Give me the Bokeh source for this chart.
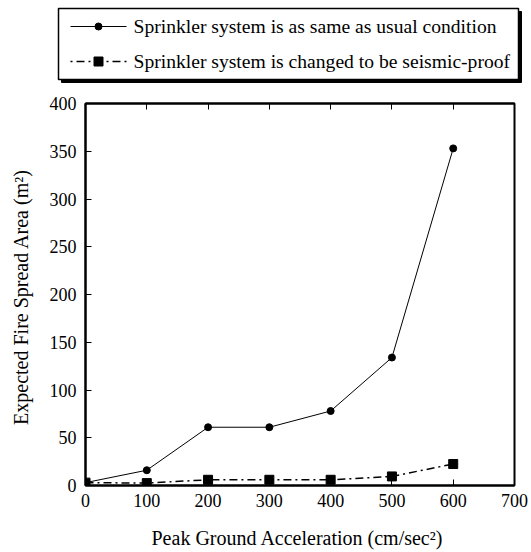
from bokeh.plotting import figure
from bokeh.models import LinearAxis, FixedTicker, Range1d
from bokeh.core.properties import value
from bokeh.embed import file_html
from bokeh.resources import INLINE

pga = [0, 100, 200, 300, 400, 500, 600]
usual = [3, 16, 61, 61, 78, 134, 353]
seismic = [3, 2.5, 6, 6, 6, 9.5, 22.5]
x_ticks = [0, 100, 200, 300, 400, 500, 600, 700]
y_ticks = [0, 50, 100, 150, 200, 250, 300, 350, 400]
label_usual = "Sprinkler system is as same as usual condition"
label_seismic = "Sprinkler system is changed to be seismic-proof"

FONT = "Liberation Serif"
DASH = "8 4 2 4"

# ---------- main chart ----------
p = figure(width=531, height=464, output_backend="svg", toolbar_location=None,
           x_range=Range1d(0, 700), y_range=Range1d(0, 400),
           min_border_left=85, min_border_right=17, min_border_top=15, min_border_bottom=67,
           x_axis_location=None, y_axis_location=None)
p.grid.visible = False
p.outline_line_color = "black"
p.outline_line_width = 2

xb = LinearAxis(ticker=FixedTicker(ticks=x_ticks), axis_label="Peak Ground Acceleration  (cm/sec²)")
yl = LinearAxis(ticker=FixedTicker(ticks=y_ticks), axis_label="Expected Fire Spread Area  (m²)")
xt = LinearAxis(ticker=FixedTicker(ticks=x_ticks))
for ax in (xb, yl, xt):
    ax.axis_line_width = 2
    ax.axis_line_color = "black"
    ax.major_tick_in = 6
    ax.major_tick_out = 0
    ax.major_tick_line_color = "black"
    ax.minor_tick_line_color = None
    ax.major_label_text_font = FONT
    ax.major_label_text_font_size = "18px"
    ax.major_label_text_color = "black"
    ax.axis_label_text_font = FONT
    ax.axis_label_text_font_size = "20px"
    ax.axis_label_text_font_style = "normal"
    ax.axis_label_text_color = "black"
xb.axis_label_standoff = 17
yl.axis_label_standoff = 15
xb.major_label_standoff = 8
yl.major_label_standoff = 9
xt.major_label_overrides = {t: "" for t in x_ticks}
xt.major_label_standoff = 0
p.add_layout(xb, "below")
p.add_layout(yl, "left")
p.add_layout(xt, "above")

p.line(pga, usual, line_color="black", line_width=1)
p.scatter(pga, usual, marker="circle", size=7, fill_color="black", line_color="black")
p.line(pga, seismic, line_color="black", line_width=1.5, line_dash=DASH)
p.scatter(pga, seismic, marker="square", size=9, fill_color="black", line_color="black")

# ---------- legend strip, drawn in a pixel-like space (y downwards) ----------
lf = figure(width=531, height=88, output_backend="svg", toolbar_location=None,
            x_range=Range1d(0, 531), y_range=Range1d(88, 0),
            min_border_left=0, min_border_right=0, min_border_top=0, min_border_bottom=0,
            x_axis_location=None, y_axis_location=None)
lf.grid.visible = False
lf.outline_line_color = None

# box with drop shadow
lf.quad(left=[61], right=[521], top=[11], bottom=[82], fill_color="black", line_color="black")
lf.quad(left=[58], right=[518], top=[8], bottom=[79], fill_color="white",
        line_color="black", line_width=1.5)

row_y = [26, 61]
sample_x0, sample_x1, sample_mid, text_x = 70, 126, 98, 133

lf.line([sample_x0, sample_x1], [row_y[0], row_y[0]], line_color="black", line_width=1)
lf.scatter([sample_mid], [row_y[0]], marker="circle", size=7, fill_color="black", line_color="black")
lf.line([sample_x0, sample_x1], [row_y[1], row_y[1]], line_color="black", line_width=1.5,
        line_dash=DASH, line_dash_offset=12)
lf.scatter([sample_mid], [row_y[1]], marker="square", size=9, fill_color="black", line_color="black")

lf.text(x=[text_x, text_x], y=row_y, text=[label_usual, label_seismic],
        text_font=value(FONT), text_font_size="19.6px", text_color="black",
        text_baseline="middle", text_align="left")

# two separate roots stacked on the page (no frame alignment between them)
open("out.html", "w").write(file_html([lf, p], INLINE))
